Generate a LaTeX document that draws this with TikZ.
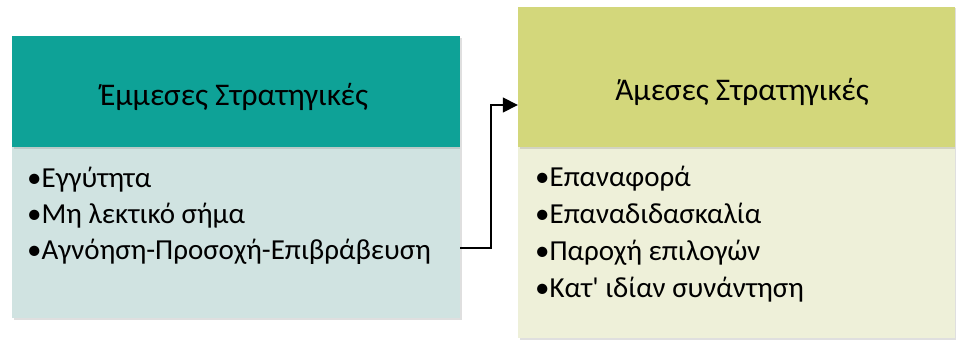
\documentclass[tikz,border=0pt]{standalone}
\usepackage{fontspec}
\setmainfont{Carlito}
\usetikzlibrary{arrows.meta,shadows}
\definecolor{tealhead}{RGB}{14,162,151}
\definecolor{tealbody}{RGB}{208,227,225}
\definecolor{olivehead}{RGB}{211,215,123}
\definecolor{olivebody}{RGB}{238,240,217}
\begin{document}
\begin{tikzpicture}[x=1pt,y=1pt,
  box/.style={rectangle,inner sep=0pt,drop shadow={shadow xshift=1.5pt,shadow yshift=-1.5pt,opacity=0.25}},
  title/.style={anchor=base,inner sep=0pt,font=\fontsize{31.5}{36}\selectfont},
  item/.style={anchor=base west,inner sep=0pt,font=\fontsize{29}{36}\selectfont}]
\useasboundingbox (0,0) rectangle (956,341);
% left box
\node[box,fill=tealbody,minimum width=448pt,minimum height=171pt] (leftbody) at (236,108.5) {};
\node[box,fill=tealhead,minimum width=448pt,minimum height=111pt] (lefthead) at (236,249.5) {};
\node[title] (lefttitle) at (234,236) {Έμμεσες Στρατηγικές};
\node[item] (l1) at (27,154) {•Εγγύτητα};
\node[item] (l2) at (27,118) {•Μη λεκτικό σήμα};
\node[item] (l3) at (27,82) {•Αγνόηση-Προσοχή-Επιβράβευση};
% right box
\node[box,fill=olivebody,minimum width=437pt,minimum height=191pt] (rightbody) at (736.5,98.5) {};
\node[box,fill=olivehead,minimum width=437pt,minimum height=140pt] (righthead) at (736.5,264) {};
\node[title] (righttitle) at (742,241) {Άμεσες Στρατηγικές};
\node[item] (r1) at (535,155) {•Επαναφορά};
\node[item] (r2) at (535,118) {•Επαναδιδασκαλία};
\node[item] (r3) at (535,81) {•Παροχή επιλογών};
\node[item] (r4) at (535,44) {•Κατ\textquotesingle{} ιδίαν συνάντηση};
% arrow
\coordinate (from) at (leftbody.east |- 0,93);
\coordinate (to) at (righthead.west |- 0,236);
\draw[line width=1.5pt,-{Triangle[length=15pt,width=15pt]}] (from) -- ++(31,0) |- (to);
\end{tikzpicture}
\end{document}
